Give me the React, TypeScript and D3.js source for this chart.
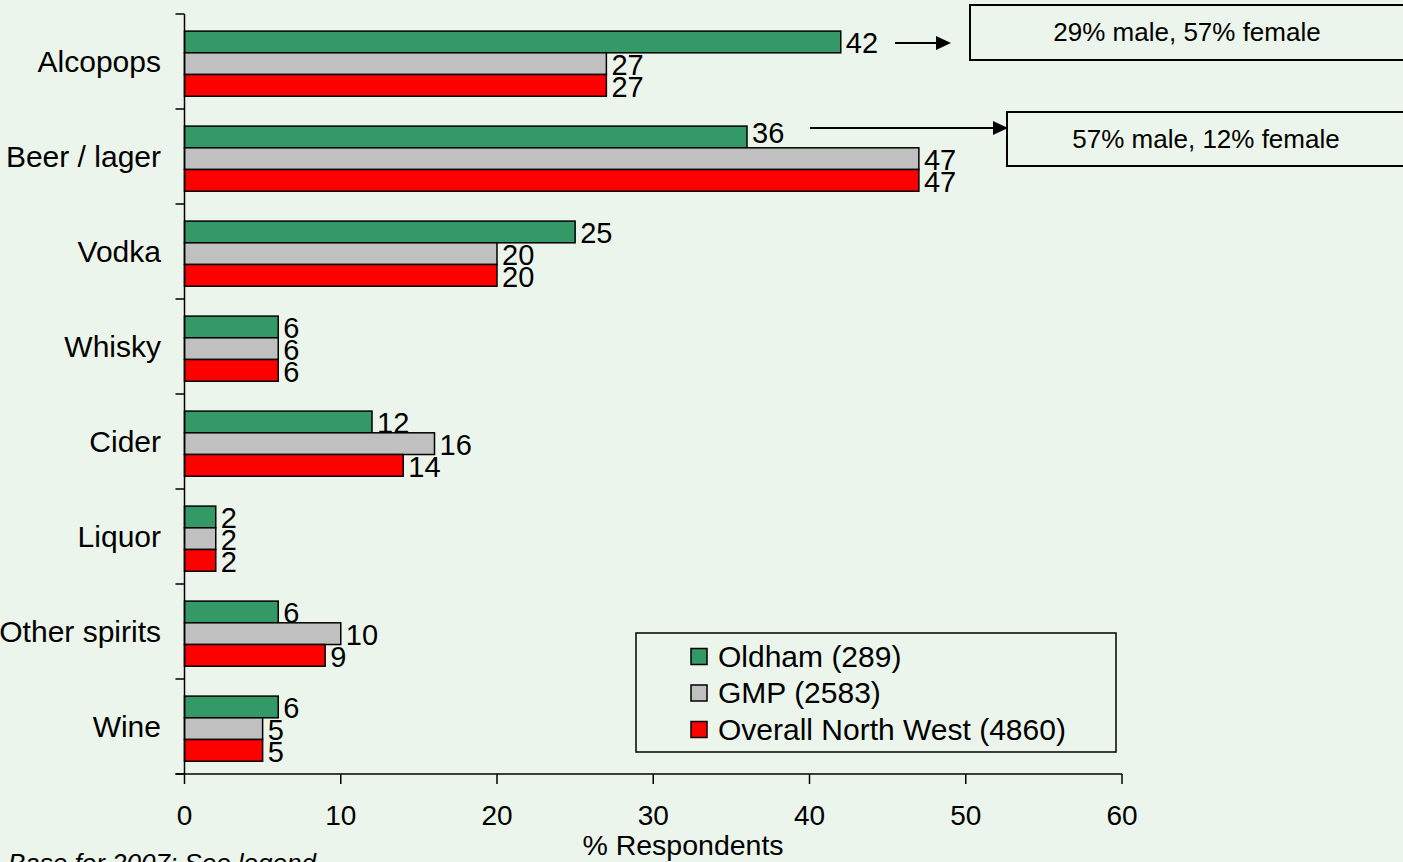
import React from "react";
import * as d3 from "d3";

const categories = ["Alcopops", "Beer / lager", "Vodka", "Whisky", "Cider", "Liquor", "Other spirits", "Wine"];
const oldham = [42, 36, 25, 6, 12, 2, 6, 6];
const gmp = [27, 47, 20, 6, 16, 2, 10, 5];
const northWest = [27, 47, 20, 6, 14, 2, 9, 5];
const seriesNames = ["Oldham (289)", "GMP (2583)", "Overall North West (4860)"];
const seriesColors = ["#339966", "#C0C0C0", "#FF0000"];
const xTicks = [0, 10, 20, 30, 40, 50, 60];
const annotations = ["29% male, 57% female", "57% male, 12% female"];

const W = 1403;
const H = 862;
const FONT = "'Liberation Sans', Arial, sans-serif";

export default function App() {
  const x = d3.scaleLinear().domain([0, 60]).range([184.5, 1122]);
  const y = d3.scaleBand<string>().domain(categories).range([14, 774]).padding(0);
  const bw = y.bandwidth();
  const barH = bw * 0.2285;
  const offset = bw * 0.18;
  const series = [oldham, gmp, northWest];
  const x0 = x(0);
  const yBottom = 774;

  const items = categories.flatMap((c, ci) =>
    series.map((s, si) => {
      const next = si < series.length - 1 ? series[si + 1][ci] : -Infinity;
      return {
        key: `${ci}-${si}`,
        v: s[ci],
        si,
        lift: next - s[ci] > 8 ? 5 : 0,
        top: (y(c) as number) + offset + si * barH,
      };
    })
  );

  return (
    <div style={{ position: "fixed", left: 0, top: 0, width: W, height: H, overflow: "hidden" }}>
      <svg width={W} height={H} style={{ display: "block", fontFamily: FONT }}>
        <rect x={0} y={0} width={W} height={H} fill="#ECF5EB" />

        {/* bars */}
        {items.map((d) => (
          <rect
            key={d.key}
            x={x0}
            y={d.top}
            width={x(d.v) - x0}
            height={barH}
            fill={seriesColors[d.si]}
            stroke="#000"
            strokeWidth={1.5}
          />
        ))}
        {/* value labels */}
        {items.map((d) => (
          <text key={"t" + d.key} x={x(d.v) + 5} y={d.top + barH + 0.5 - d.lift} fontSize={29} fill="#000">
            {d.v}
          </text>
        ))}
        {/* category labels */}
        {categories.map((c) => (
          <text
            key={c}
            x={161}
            y={(y(c) as number) + bw / 2 + 10}
            fontSize={30}
            textAnchor="end"
            fill="#000"
          >
            {c}
          </text>
        ))}

        {/* y axis */}
        <line x1={x0} x2={x0} y1={14} y2={yBottom} stroke="#000" strokeWidth={1.5} />
        {[...categories.map((c) => y(c) as number), yBottom].map((t, i) => (
          <line key={i} x1={x0 - 9} x2={x0} y1={t} y2={t} stroke="#000" strokeWidth={1.5} />
        ))}

        {/* x axis */}
        <line x1={x0 - 9} x2={x(60)} y1={yBottom} y2={yBottom} stroke="#000" strokeWidth={1.5} />
        {xTicks.map((t) => (
          <g key={t}>
            <line x1={x(t)} x2={x(t)} y1={yBottom} y2={yBottom + 10} stroke="#000" strokeWidth={1.5} />
            <text x={x(t)} y={825} fontSize={28} textAnchor="middle" fill="#000">
              {t}
            </text>
          </g>
        ))}
        <text x={683} y={855} fontSize={28.5} textAnchor="middle" fill="#000">
          % Respondents
        </text>
        <text x={8} y={872} fontSize={26} fontStyle="italic" fill="#000">
          Base for 2007: See legend
        </text>

        {/* legend */}
        <rect x={636} y={633} width={480} height={119} fill="none" stroke="#000" strokeWidth={1.5} />
        {seriesNames.map((n, i) => {
          const cy = 656.5 + i * 36.5;
          return (
            <g key={n}>
              <rect x={691} y={cy - 8} width={16} height={16} fill={seriesColors[i]} stroke="#000" strokeWidth={1.5} />
              <text x={718} y={cy + 10} fontSize={30} fill="#000">
                {n}
              </text>
            </g>
          );
        })}

        {/* annotations */}
        <line x1={895} x2={938} y1={43} y2={43} stroke="#000" strokeWidth={2} />
        <path d="M936,36 L951,43 L936,50 Z" fill="#000" />
        <rect x={970} y={5} width={460} height={55} fill="none" stroke="#000" strokeWidth={2} />
        <text x={1187} y={41} fontSize={26} textAnchor="middle" fill="#000">
          {annotations[0]}
        </text>

        <line x1={810} x2={995} y1={128} y2={128} stroke="#000" strokeWidth={2} />
        <path d="M993,121 L1008,128 L993,135 Z" fill="#000" />
        <rect x={1007} y={112} width={460} height={54} fill="none" stroke="#000" strokeWidth={2} />
        <text x={1206} y={148} fontSize={26} textAnchor="middle" fill="#000">
          {annotations[1]}
        </text>
      </svg>
    </div>
  );
}
